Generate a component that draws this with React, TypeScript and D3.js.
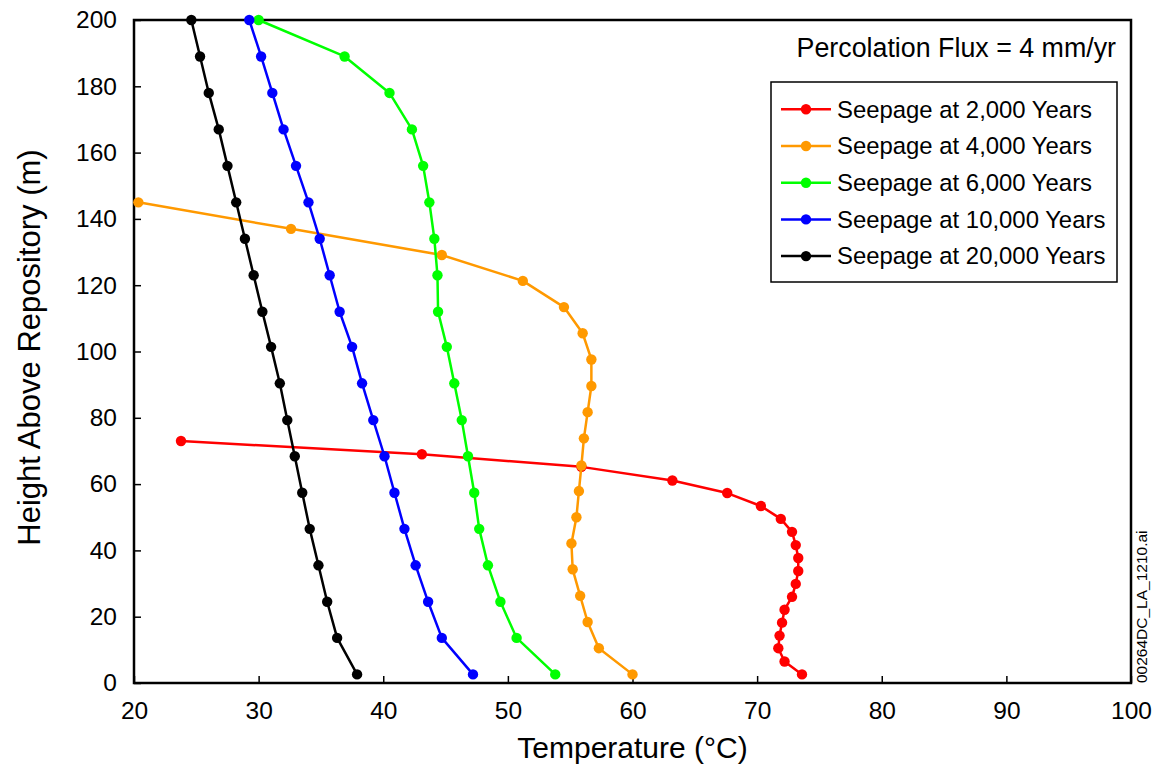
import React, { useEffect, useRef } from "react";
import * as d3 from "d3";

const W = 1153;
const H = 776;

const xTicks = [20, 30, 40, 50, 60, 70, 80, 90, 100];
const yTicks = [0, 20, 40, 60, 80, 100, 120, 140, 160, 180, 200];

const seriesNames = [
  "Seepage at 2,000 Years",
  "Seepage at 4,000 Years",
  "Seepage at 6,000 Years",
  "Seepage at 10,000 Years",
  "Seepage at 20,000 Years",
];
const seriesColors = ["#ff0000", "#ff9900", "#00ff00", "#0000ff", "#000000"];

const redHeights = [73.0, 69.0, 65.2, 61.1, 57.3, 53.4, 49.5, 45.6, 41.6, 37.7, 33.8, 29.9, 26.0, 22.1, 18.2, 14.3, 10.5, 6.5, 2.6];
const redTemps = [23.77, 43.1, 55.9, 63.2, 67.6, 70.3, 71.9, 72.8, 73.1, 73.3, 73.3, 73.1, 72.8, 72.2, 72.0, 71.8, 71.7, 72.2, 73.6];

const orangeHeights = [145, 137, 129.1, 121.3, 113.4, 105.5, 97.6, 89.6, 81.7, 73.8, 65.6, 57.9, 50.0, 42.1, 34.3, 26.3, 18.4, 10.5, 2.6];
const orangeTemps = [20.35, 32.6, 44.7, 51.2, 54.5, 56.0, 56.7, 56.7, 56.4, 56.1, 55.9, 55.7, 55.5, 55.1, 55.2, 55.8, 56.4, 57.3, 60.0];

const coolHeights = [200, 189, 178, 167, 156, 145, 134, 123, 112, 101.4, 90.4, 79.3, 68.4, 57.4, 46.5, 35.5, 24.5, 13.6, 2.6];
const greenTemps = [30.0, 36.9, 40.5, 42.3, 43.2, 43.7, 44.1, 44.35, 44.4, 45.1, 45.7, 46.3, 46.8, 47.3, 47.7, 48.4, 49.4, 50.7, 53.8];
const blueTemps = [29.25, 30.2, 31.1, 32.0, 33.0, 34.0, 34.9, 35.7, 36.5, 37.5, 38.3, 39.2, 40.1, 40.9, 41.7, 42.6, 43.6, 44.7, 47.2];
const blackTemps = [24.6, 25.3, 26.0, 26.8, 27.5, 28.2, 28.9, 29.6, 30.3, 31.0, 31.7, 32.3, 32.9, 33.5, 34.1, 34.8, 35.5, 36.3, 37.9];

const FONT = "'Liberation Sans', Arial, Helvetica, sans-serif";

export default function App() {
  const ref = useRef<SVGSVGElement | null>(null);

  useEffect(() => {
    const svg = d3.select(ref.current);
    svg.selectAll("*").remove();

    const left = 134, right = 1131, top = 20, bottom = 683;
    const x = d3.scaleLinear().domain([20, 100]).range([left, right]);
    const y = d3.scaleLinear().domain([0, 200]).range([bottom, top]);

    svg.append("rect").attr("width", W).attr("height", H).attr("fill", "#fff");

    const series = [
      { t: redTemps, h: redHeights },
      { t: orangeTemps, h: orangeHeights },
      { t: greenTemps, h: coolHeights },
      { t: blueTemps, h: coolHeights },
      { t: blackTemps, h: coolHeights },
    ];

    const xa = svg
      .append("g")
      .attr("transform", `translate(0,${bottom})`)
      .call(d3.axisBottom(x).tickValues(xTicks).tickSize(-7).tickPadding(19).tickFormat(d3.format("d")));
    xa.select(".domain").remove();
    xa.selectAll("line").attr("stroke", "#000").attr("stroke-width", 1.5);
    xa.selectAll("text").attr("font-size", 24.5).attr("font-family", FONT).attr("fill", "#000");

    const ya = svg
      .append("g")
      .attr("transform", `translate(${left},0)`)
      .call(d3.axisLeft(y).tickValues(yTicks).tickSize(-7).tickPadding(17).tickFormat(d3.format("d")));
    ya.select(".domain").remove();
    ya.selectAll("line").attr("stroke", "#000").attr("stroke-width", 1.5);
    ya.selectAll("text").attr("font-size", 24.5).attr("font-family", FONT).attr("fill", "#000");

    svg
      .append("rect")
      .attr("x", left)
      .attr("y", top)
      .attr("width", right - left)
      .attr("height", bottom - top)
      .attr("fill", "none")
      .attr("stroke", "#000")
      .attr("stroke-width", 2.5);

    const line = d3
      .line<[number, number]>()
      .x((d) => x(d[0]))
      .y((d) => y(d[1]));

    series.forEach((s, i) => {
      const pts: [number, number][] = s.t.map((t, j) => [t, s.h[j]]);
      const g = svg.append("g");
      g.append("path")
        .attr("d", line(pts) || "")
        .attr("fill", "none")
        .attr("stroke", seriesColors[i])
        .attr("stroke-width", 2.5)
        .attr("stroke-linejoin", "round");
      g.selectAll("circle")
        .data(pts)
        .enter()
        .append("circle")
        .attr("cx", (d) => x(d[0]))
        .attr("cy", (d) => y(d[1]))
        .attr("r", 5.2)
        .attr("fill", seriesColors[i]);
    });

    svg
      .append("text")
      .attr("x", 1116)
      .attr("y", 57)
      .attr("text-anchor", "end")
      .attr("font-size", 26.8)
      .attr("font-family", FONT)
      .attr("fill", "#000")
      .text("Percolation Flux = 4 mm/yr");

    const lg = svg.append("g");
    lg.append("rect")
      .attr("x", 771)
      .attr("y", 82)
      .attr("width", 346)
      .attr("height", 200)
      .attr("fill", "#fff")
      .attr("stroke", "#000")
      .attr("stroke-width", 1.5);
    seriesNames.forEach((name, i) => {
      const cy = 109.3 + i * 36.7;
      lg.append("line")
        .attr("x1", 781)
        .attr("x2", 831)
        .attr("y1", cy)
        .attr("y2", cy)
        .attr("stroke", seriesColors[i])
        .attr("stroke-width", 2.5);
      lg.append("circle").attr("cx", 806).attr("cy", cy).attr("r", 5.2).attr("fill", seriesColors[i]);
      lg.append("text")
        .attr("x", 837)
        .attr("y", cy)
        .attr("dy", "0.35em")
        .attr("font-size", 23.9)
        .attr("font-family", FONT)
        .attr("fill", "#000")
        .text(name);
    });

    svg
      .append("text")
      .attr("x", (left + right) / 2)
      .attr("y", 758)
      .attr("text-anchor", "middle")
      .attr("font-size", 30)
      .attr("font-family", FONT)
      .attr("fill", "#000")
      .text("Temperature (°C)");

    svg
      .append("text")
      .attr("transform", `translate(40,${(top + bottom) / 2 - 4}) rotate(-90)`)
      .attr("text-anchor", "middle")
      .attr("font-size", 31)
      .attr("font-family", FONT)
      .attr("fill", "#000")
      .text("Height Above Repository (m)");

    svg
      .append("text")
      .attr("transform", `translate(1147,${bottom}) rotate(-90)`)
      .attr("text-anchor", "start")
      .attr("font-size", 15.5)
      .attr("font-family", FONT)
      .attr("fill", "#000")
      .text("00264DC_LA_1210.ai");
  }, []);

  return (
    <svg
      ref={ref}
      width={W}
      height={H}
      style={{ position: "absolute", left: 0, top: 0, display: "block" }}
    />
  );
}
